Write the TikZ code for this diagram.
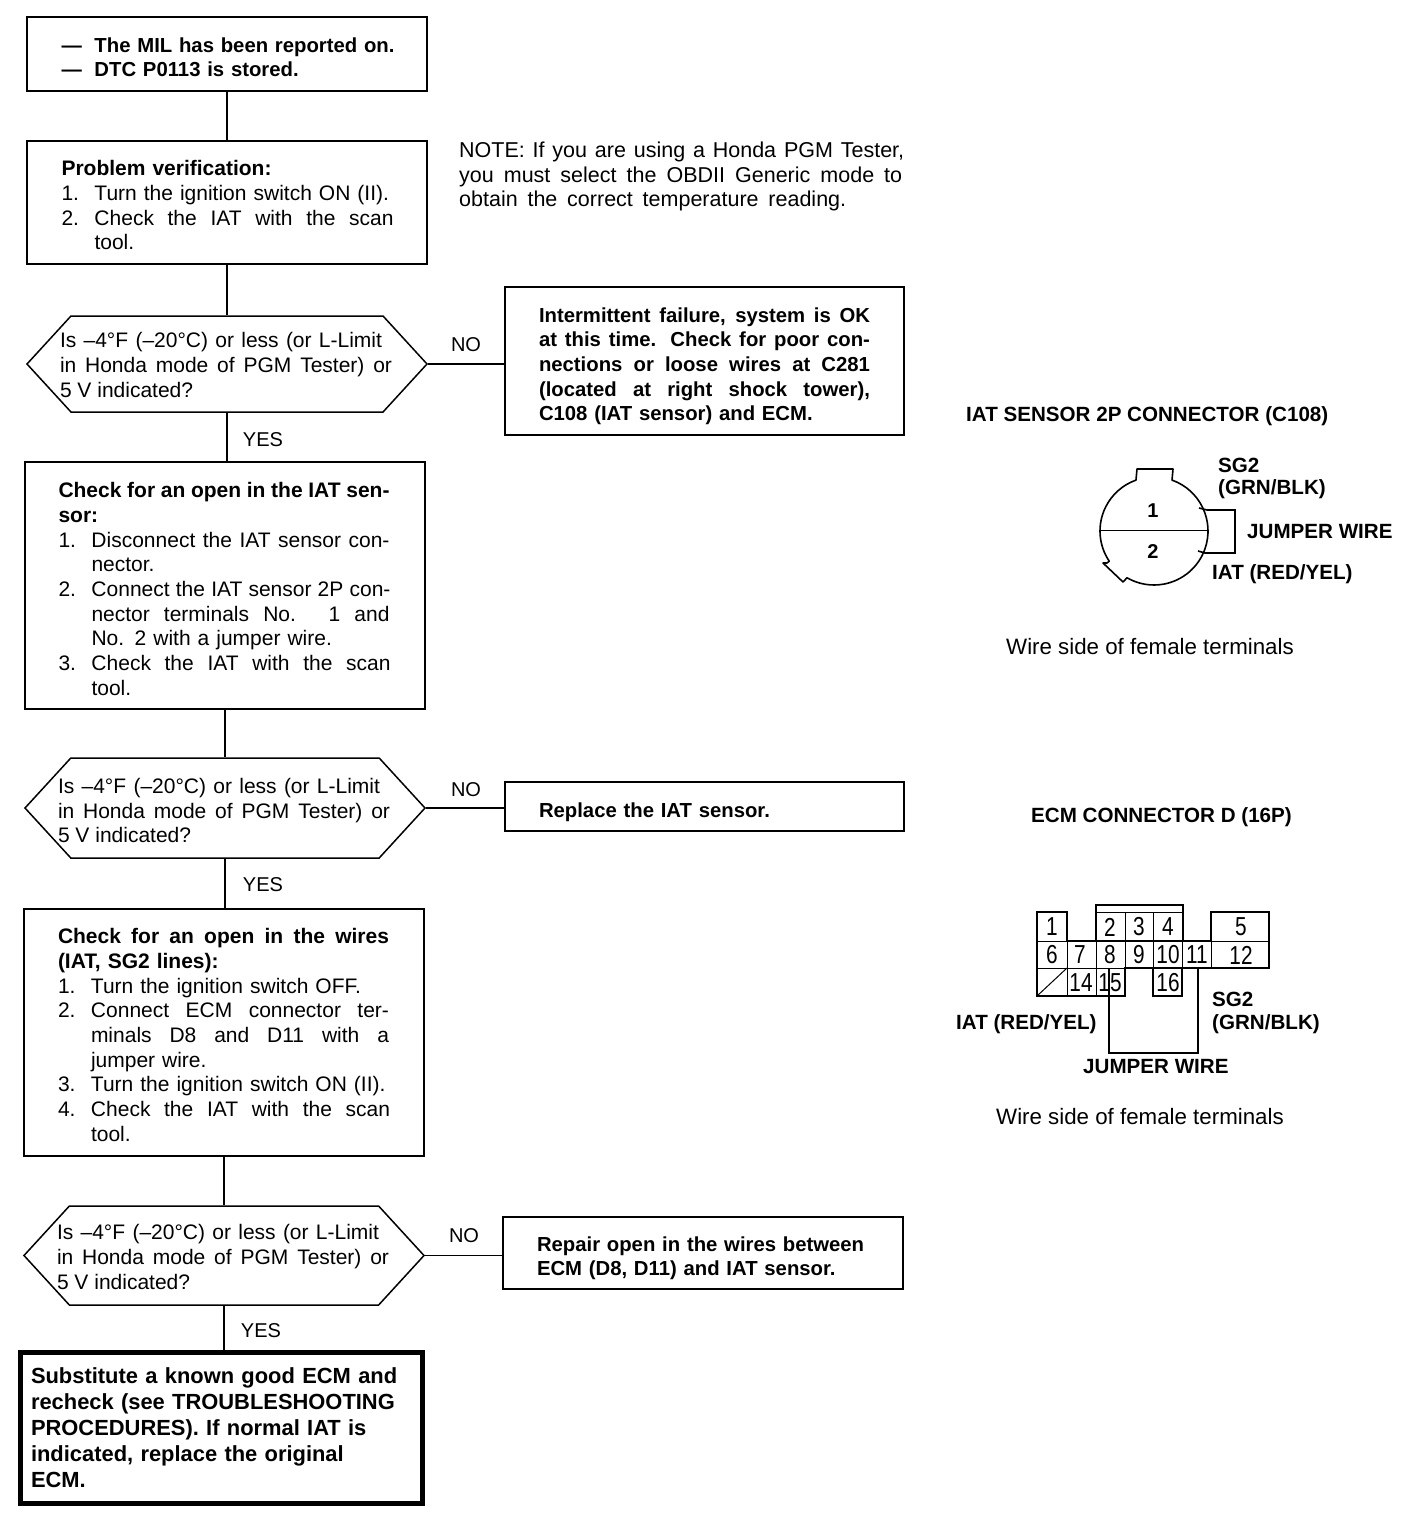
\documentclass[tikz,border=0pt]{standalone}
\usepackage{fontspec}
\usepackage{graphicx}
\setmainfont{Liberation Sans}
\usetikzlibrary{shapes.symbols,calc}
\newcommand{\J}[2]{\makebox[#1pt][s]{\spaceskip=0pt \xspaceskip=0pt #2}}
\newcommand{\Nm}[2]{\makebox[33pt][l]{#1}#2}
\newcommand{\Hg}[1]{\hspace*{33pt}#1}
\newcommand{\Sh}[1]{\rule{0pt}{#1pt}}
\newcommand{\IsLine}{\J{322}{Is –4°F (–20°C) or less (or L-Limit}}
\newcommand{\HondaLine}{\J{332}{in Honda mode of PGM Tester) or}}
\begin{document}
\begin{tikzpicture}[x=1pt,y=-1pt,
  box/.style={draw,line width=1.5pt,inner sep=0pt,align=left,anchor=center,font=\fontsize{21}{24.7}\selectfont},
  boldbox/.style={box,font=\fontsize{20.3}{24.7}\selectfont\bfseries},
  hex/.style={draw,line width=1.5pt,shape=signal,signal to=west and east,signal pointer angle=95,inner sep=0pt},
  hextext/.style={align=left,anchor=center,inner sep=0pt,font=\fontsize{21}{24.7}\selectfont},
  lbl/.style={inner sep=0pt,font=\fontsize{20}{24}\selectfont},
  capt/.style={inner sep=0pt,anchor=west,font=\fontsize{20.6}{24}\selectfont\bfseries},
  wside/.style={inner sep=0pt,anchor=west,font=\fontsize{22.3}{24}\selectfont},
  num/.style={inner sep=0pt,font=\fontsize{26}{26}\selectfont},
  conn/.style={line width=1.5pt},
  cell/.style={line width=2.2pt,line join=miter}]
\useasboundingbox (0,0) rectangle (1408,1524);
\fill[white] (0,0) rectangle (1408,1524);

% --- flow boxes
\node[boldbox,minimum width=400pt,minimum height=74pt,text width=331pt] (b1) at (227,54)
 {\Sh{21}\mbox{\makebox[33pt][l]{---}The MIL has been reported on.}\\\mbox{\makebox[33pt][l]{---}DTC P0113 is stored.}};
\node[box,minimum width=400pt,minimum height=123pt,text width=331pt] (b2) at (227,202.5)
 {\Sh{21}\textbf{Problem verification:}\\\Nm{1.}{Turn the ignition switch ON (II).}\\\Nm{2.}{\J{299}{Check the IAT with the scan}}\\\Hg{tool.}};
\node[inner sep=0pt,anchor=west,align=left,font=\fontsize{21.5}{24.7}\selectfont] (note) at (459,176.5)
 {\J{445}{NOTE: If you are using a Honda PGM Tester,}\\\J{443}{you must select the OBDII Generic mode to}\\\J{387}{obtain the correct temperature reading.}};

\node[hex,minimum width=400pt,minimum height=96pt] (h1) at (227,364) {};
\node[hextext] (h1t) at (226,365) {\makebox[332pt][l]{\IsLine}\\\HondaLine\\\makebox[332pt][l]{5 V indicated?}};
\node[boldbox,minimum width=399pt,minimum height=148pt,text width=331pt] (n1) at (704.5,361)
 {\Sh{25}\J{331}{Intermittent failure, system is OK}\\\J{331}{at this time. Check for poor con-}\\\J{331}{nections or loose wires at C281}\\\J{331}{(located at right shock tower),}\\C108 (IAT sensor) and ECM.};
\node[lbl] (no1) at (466,345) {NO};
\node[lbl] (yes1) at (263,440) {YES};

\node[box,minimum width=400pt,minimum height=247pt,text width=333pt] (b3) at (225,585.5)
 {\Sh{22}\textbf{\J{331}{Check for an open in the IAT sen-}}\\\textbf{sor:}\\\Nm{1.}{\J{298}{Disconnect the IAT sensor con-}}\\\Hg{nector.}\\\Nm{2.}{\J{299}{Connect the IAT sensor 2P con-}}\\\Hg{\J{298}{nector terminals No. 1 and}}\\\Hg{No. 2 with a jumper wire.}\\\Nm{3.}{\J{299}{Check the IAT with the scan}}\\\Hg{tool.}};

\node[hex,minimum width=400pt,minimum height=100pt] (h2) at (225,808) {};
\node[hextext] (h2t) at (224,810.5) {\makebox[332pt][l]{\IsLine}\\\HondaLine\\\makebox[332pt][l]{5 V indicated?}};
\node[boldbox,minimum width=399pt,minimum height=49pt,text width=331pt] (n2) at (704.5,806.5) {\Sh{26}Replace the IAT sensor.};
\node[lbl] (no2) at (466,790) {NO};
\node[lbl] (yes2) at (263,885) {YES};

\node[box,minimum width=400pt,minimum height=247pt,text width=332pt] (b4) at (224,1032.5)
 {\Sh{20}\textbf{\J{331}{Check for an open in the wires}}\\\textbf{(IAT, SG2 lines):}\\\Nm{1.}{Turn the ignition switch OFF.}\\\Nm{2.}{\J{298}{Connect ECM connector ter-}}\\\Hg{\J{298}{minals D8 and D11 with a}}\\\Hg{jumper wire.}\\\Nm{3.}{Turn the ignition switch ON (II).}\\\Nm{4.}{\J{299}{Check the IAT with the scan}}\\\Hg{tool.}};

\node[hex,minimum width=400pt,minimum height=99pt] (h3) at (224,1255.5) {};
\node[hextext] (h3t) at (223,1257) {\makebox[332pt][l]{\IsLine}\\\HondaLine\\\makebox[332pt][l]{5 V indicated?}};
\node[boldbox,minimum width=400pt,minimum height=72pt,text width=332pt] (n3) at (703,1253)
 {\Sh{25}Repair open in the wires between\\ECM (D8, D11) and IAT sensor.};
\node[lbl] (no3) at (464,1236) {NO};
\node[lbl] (yes3) at (261,1331) {YES};

\node[draw,line width=5pt,minimum width=402pt,minimum height=151pt,inner sep=0pt,text width=381pt,align=left,font=\fontsize{21.9}{26}\selectfont\bfseries] (final) at (221.5,1428)
 {Substitute a known good ECM and\\recheck (see TROUBLESHOOTING\\PROCEDURES). If normal IAT is\\indicated, replace the original\\ECM.};

% --- connectors
\draw[conn] (b1.south) -- (b2.north);
\draw[conn] (b2.south) -- (h1.north);
\draw[conn] (h1.south) -- (h1.south |- b3.north);
\draw[conn] (b3.south) -- (h2.north);
\draw[conn] (h2.south) -- (h2.south |- b4.north);
\draw[conn] (b4.south) -- (h3.north);
\draw[conn] (h3.south) -- (h3.south |- final.north);
\draw[conn] (h1.east) -- (h1.east -| n1.west);
\draw[conn] (h2.east) -- (h2.east -| n2.west);
\draw[conn] (h3.east) -- (h3.east -| n3.west);

% --- IAT sensor connector
\node[capt] (c1title) at (966,416) {IAT SENSOR 2P CONNECTOR (C108)};
\coordinate (c) at (1154,531);
\draw[line width=1.6pt,line join=round] ($(c)+(70.5:54pt)$)
  arc[start angle=70.5,end angle=-120,radius=54pt]
  -- (1123,582) -- (1103,563) -- (1107,563) -- ($(c)+(-146:54pt)$)
  arc[start angle=-146,end angle=-250.5,radius=54pt]
  -- (1137,469) -- (1173,469) -- cycle;
\draw[line width=1pt] (1099,530) -- (1209,530);
\draw[line width=1.6pt] (1199,508) -- (1207,510) -- (1235,510) -- (1235,553) -- (1205,553) -- (1198,551);
\node[lbl,font=\fontsize{20}{24}\selectfont\bfseries] (p1) at (1153,511) {1};
\node[lbl,font=\fontsize{20}{24}\selectfont\bfseries] (p2) at (1153,552) {2};
\node[capt] (sg2a) at (1218,465) {SG2};
\node[capt] (sg2b) at (1218,489) {(GRN/BLK)};
\node[capt] (jw1) at (1247,532) {JUMPER WIRE};
\node[capt] (iat1) at (1212,574.5) {IAT (RED/YEL)};
\node[wside] (ws1) at (1006,646.5) {Wire side of female terminals};

% --- ECM connector
\node[capt] (c2title) at (1031,817) {ECM CONNECTOR D (16P)};
\draw[cell] (1037,941) -- (1037,912) -- (1067,912) -- (1067,941);
\draw[cell] (1096,941) -- (1096,905) -- (1183,905) -- (1183,941);
\draw[line width=1pt] (1096,912) -- (1183,912);
\draw[line width=1pt] (1125,912) -- (1125,941) (1153,912) -- (1153,941);
\draw[cell] (1211,941) -- (1211,912) -- (1269,912) -- (1269,968) -- (1182,968);
\draw[line width=1pt] (1037,941) -- (1269,941);
\draw[cell] (1067,941) -- (1211,941);
\draw[cell] (1037,941) -- (1037,996) -- (1125,996) -- (1125,968) -- (1182,968);
\draw[line width=1pt] (1037,968) -- (1125,968);
\draw[line width=1pt] (1067,941) -- (1067,996) (1096,941) -- (1096,996) (1125,941) -- (1125,968)
  (1153,941) -- (1153,968) (1182,941) -- (1182,968) (1211,941) -- (1211,968);
\draw[line width=1pt] (1037,996) -- (1067,968);
\draw[cell] (1153,968) -- (1153,996) -- (1182,996) -- (1182,968);
\draw[cell] (1109,968) -- (1109,1053) -- (1198,1053) -- (1198,968);
\foreach \nm/\x/\y/\t in {a/1052/927/1,b/1110/927/2,d/1139/927/3,e/1168/927/4,f/1241/927/5,
  g/1052/955/6,h/1080/955/7,i/1110/955/8,j/1139/955/9,k/1168/955/10,l/1197/955/11,m/1241/955/12,
  n/1081/983/14,o/1110/983/15,q/1168/983/16}
  \node[num] (t\nm) at (\x,\y) {\scalebox{.8}[1]{\t}};
\node[capt] (iat2) at (956,1024) {IAT (RED/YEL)};
\node[capt] (sg2c) at (1212,999) {SG2};
\node[capt] (sg2d) at (1212,1024) {(GRN/BLK)};
\node[capt] (jw2) at (1083,1066.5) {JUMPER WIRE};
\node[wside] (ws2) at (996,1116.5) {Wire side of female terminals};
\end{tikzpicture}
\end{document}
